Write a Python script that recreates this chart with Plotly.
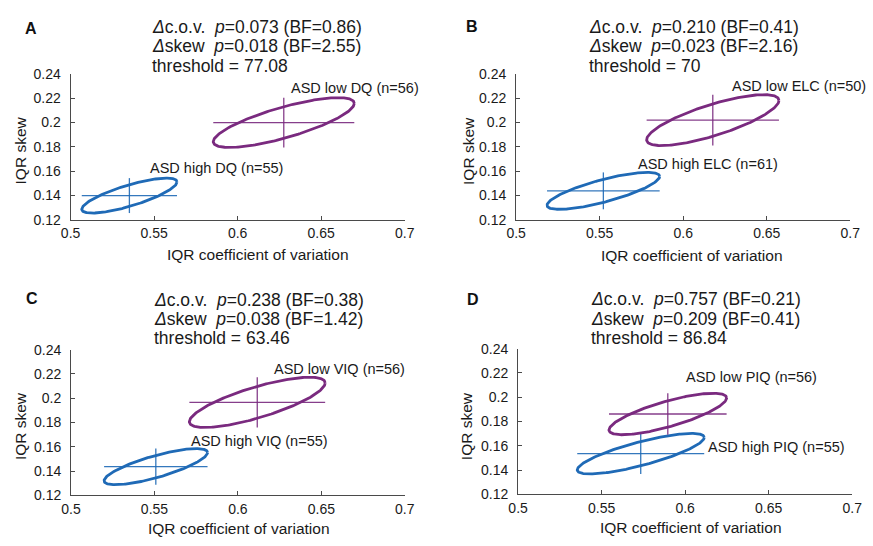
import numpy as np
import plotly.graph_objects as go

# ---------------- data ----------------
panels = ["A", "B", "C", "D"]
measures = ["DQ", "ELC", "VIQ", "PIQ"]
n_high = [55, 61, 55, 55]
n_low = [56, 50, 56, 56]
p_cov = ["0.073", "0.210", "0.238", "0.757"]
bf_cov = ["0.86", "0.41", "0.38", "0.21"]
p_skew = ["0.018", "0.023", "0.038", "0.209"]
bf_skew = ["2.55", "2.16", "1.42", "0.41"]
thresholds = ["77.08", "70", "63.46", "86.84"]

# ellipse centres and half-extents (IQR c.o.v., IQR skew)
high_cx = [0.5352, 0.5522, 0.5508, 0.5734]
high_cy = [0.1398, 0.1437, 0.1436, 0.1535]
high_ax = [0.0285, 0.0337, 0.0310, 0.0380]
high_ay = [0.0144, 0.0152, 0.0149, 0.0167]
high_r = [0.78, 0.78, 0.78, 0.80]

low_cx = [0.6276, 0.6177, 0.6116, 0.5896]
low_cy = [0.2000, 0.2020, 0.1966, 0.1862]
low_ax = [0.0422, 0.0396, 0.0407, 0.0352]
low_ay = [0.0205, 0.0210, 0.0207, 0.0171]
low_r = [0.77, 0.77, 0.77, 0.77]

x_ticks = [0.5, 0.55, 0.6, 0.65, 0.7]
x_ticktext = ["0.5", "0.55", "0.6", "0.65", "0.7"]
y_ticks = [0.12, 0.14, 0.16, 0.18, 0.2, 0.22, 0.24]
y_ticktext = ["0.12", "0.14", "0.16", "0.18", "0.2", "0.22", "0.24"]

# ---------------- layout helpers ----------------
W, H = 873, 546
FONT = "Liberation Sans, Arial, Helvetica, sans-serif"
BLUE = "#1f6ab6"
PURPLE = "#7a2a7f"
AXC = "#4a4a4a"
TXT = "#1a1a1a"

def fx(x):
    return x / W

def fy(y):
    return 1 - y / H

# plot areas in pixels: (left, right, top, bottom)
boxes = [(62, 404, 68, 218), (518, 860, 68, 218),
         (62.5, 404, 352, 502), (520, 862, 351, 501)]
stat_pos = [(143, [19.5, 39.5, 59.5]), (591, [19.5, 39.5, 59.5]),
            (145, [301, 320.5, 340]), (592.5, [300, 320, 339.5])]
letter_pos = [(21, 21), (473, 19), (23, 299), (474, 300)]
low_lab = [(286, 82.7), (736.5, 80), (268, 372), (689.5, 380.3)]
high_lab = [(141.5, 165), (641, 160.7), (183, 446.3), (712, 452.3)]
xtitle_pos = [(254, 253.5), (698, 254.5), (234, 536), (697, 535)]
ytitle_pos = [(11, 147), (469, 147), (11, 431), (468, 430.5)]

def ellipse(cx, cy, ax, ay, r):
    t = np.linspace(0, 2 * np.pi, 241)
    x = cx + ax * np.cos(t)
    y = cy + ay * (r * np.cos(t) + np.sqrt(1 - r * r) * np.sin(t))
    return x, y

fig = go.Figure()
annotations = []
layout_axes = {}

for i in range(4):
    xa = "x" if i == 0 else f"x{i+1}"
    ya = "y" if i == 0 else f"y{i+1}"
    l, r_, t_, b = boxes[i]
    ax_common = dict(showline=True, linecolor=AXC, linewidth=1, ticks="inside",
                     ticklen=4, tickcolor=AXC, tickwidth=1, showgrid=False,
                     zeroline=False, mirror=False,
                     tickfont=dict(family=FONT, size=14, color=TXT))
    layout_axes["xaxis" if i == 0 else f"xaxis{i+1}"] = dict(
        ax_common, domain=[fx(l), fx(r_)], range=[0.5, 0.7], anchor=ya,
        tickvals=x_ticks, ticktext=x_ticktext, ticklabelstandoff=1)
    layout_axes["yaxis" if i == 0 else f"yaxis{i+1}"] = dict(
        ax_common, domain=[fy(b), fy(t_)], range=[0.12, 0.24], anchor=xa,
        tickvals=y_ticks, ticktext=y_ticktext, ticklabelstandoff=6)

    groups = [
        (high_cx[i], high_cy[i], high_ax[i], high_ay[i], high_r[i], BLUE),
        (low_cx[i], low_cy[i], low_ax[i], low_ay[i], low_r[i], PURPLE),
    ]
    for cx, cy, ax, ay, rr, col in groups:
        ex, ey = ellipse(cx, cy, ax, ay, rr)
        fig.add_trace(go.Scatter(x=[cx - ax, cx + ax], y=[cy, cy], mode="lines",
                                 line=dict(color=col, width=1.3), opacity=0.9,
                                 xaxis=xa, yaxis=ya, showlegend=False,
                                 hoverinfo="skip"))
        fig.add_trace(go.Scatter(x=[cx, cx], y=[cy - ay, cy + ay], mode="lines",
                                 line=dict(color=col, width=1.3), opacity=0.9,
                                 xaxis=xa, yaxis=ya, showlegend=False,
                                 hoverinfo="skip"))
        fig.add_trace(go.Scatter(x=ex, y=ey, mode="lines",
                                 line=dict(color=col, width=2.8),
                                 xaxis=xa, yaxis=ya, showlegend=False))

    # stats text
    sx, sys_ = stat_pos[i]
    lines = [
        f"<i>Δ</i>c.o.v.\u00a0\u00a0<i>p</i>={p_cov[i]} (BF={bf_cov[i]})",
        f"<i>Δ</i>skew\u00a0\u00a0<i>p</i>={p_skew[i]} (BF={bf_skew[i]})",
        f"threshold = {thresholds[i]}",
    ]
    for txt, yy in zip(lines, sys_):
        annotations.append(dict(text=txt, x=fx(sx), y=fy(yy), xref="paper",
                                yref="paper", xanchor="left", yanchor="middle",
                                showarrow=False,
                                font=dict(family=FONT, size=17.5, color=TXT)))
    # panel letter
    lx, ly = letter_pos[i]
    annotations.append(dict(text=f"<b>{panels[i]}</b>", x=fx(lx), y=fy(ly),
                            xref="paper", yref="paper", xanchor="center",
                            yanchor="middle", showarrow=False,
                            font=dict(family=FONT, size=16, color="#111")))
    # group labels
    hx, hy = high_lab[i]
    annotations.append(dict(text=f"ASD high {measures[i]} (n={n_high[i]})",
                            x=fx(hx), y=fy(hy), xref="paper", yref="paper",
                            xanchor="left", yanchor="middle", showarrow=False,
                            font=dict(family=FONT, size=14.5, color=TXT)))
    wx, wy = low_lab[i]
    annotations.append(dict(text=f"ASD low {measures[i]} (n={n_low[i]})",
                            x=fx(wx), y=fy(wy), xref="paper", yref="paper",
                            xanchor="left", yanchor="middle", showarrow=False,
                            font=dict(family=FONT, size=14.5, color=TXT)))
    # axis titles
    tx, ty = xtitle_pos[i]
    annotations.append(dict(text="IQR coefficient of variation", x=fx(tx),
                            y=fy(ty), xref="paper", yref="paper",
                            xanchor="center", yanchor="middle", showarrow=False,
                            font=dict(family=FONT, size=15.5, color=TXT)))
    vx, vy = ytitle_pos[i]
    annotations.append(dict(text="IQR skew", x=fx(vx), y=fy(vy), xref="paper",
                            yref="paper", xanchor="center", yanchor="middle",
                            showarrow=False, textangle=-90,
                            font=dict(family=FONT, size=15.5, color=TXT)))

fig.update_layout(width=W, height=H, margin=dict(l=0, r=0, t=0, b=0),
                  paper_bgcolor="white", plot_bgcolor="white",
                  annotations=annotations, **layout_axes)

fig.write_html("out.html")
